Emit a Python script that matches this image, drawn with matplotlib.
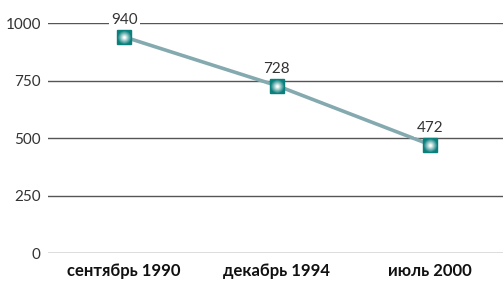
import matplotlib

matplotlib.use("Agg")
import matplotlib.pyplot as plt
import numpy as np
from matplotlib.colors import to_rgb

categories = ["сентябрь 1990", "декабрь 1994", "июль 2000"]
values = [940, 728, 472]
yticks = [0, 250, 500, 750, 1000]

plt.rcParams["font.family"] = ["Lato", "DejaVu Sans"]

fig = plt.figure(figsize=(5.03, 2.85), dpi=100)
ax = fig.add_axes([0.095, 0.112, 0.905, 0.807])

x = np.arange(len(categories))
ax.plot(x, values, color="#84aab0", lw=2.6, zorder=3, solid_capstyle="butt")

# square marker with a radial highlight
ax.plot(x, values, ls="none", marker="s", ms=10.5, mfc="#0a7f7c", mec="#0a7f7c", zorder=4, clip_on=False)
teal = np.array(to_rgb("#0a7f7c"))
for i, s in enumerate(np.linspace(9.5, 1.5, 10)):
    t = (i + 1) / 10
    c = teal * (1 - t) + np.array([1.0, 1.0, 1.0]) * t
    ax.plot(x, values, ls="none", marker="o", ms=s, mfc=c, mec="none", zorder=5, clip_on=False)

for xi, v in zip(x, values):
    ax.annotate(str(v), (xi, v), xytext=(0, 7), textcoords="offset points",
                ha="center", va="bottom", fontsize=11, color="#333333", zorder=6,
                bbox=dict(boxstyle="square,pad=0.15", fc="white", ec="none"))

ax.set_xlim(-0.5, 2.48)
ax.set_ylim(0, 1000)
ax.set_yticks(yticks)
ax.set_xticks(x)
ax.set_xticklabels(categories, fontweight="bold", fontsize=12, color="#111111")
ax.tick_params(axis="y", length=0, pad=5, labelsize=11, labelcolor="#333333")
ax.tick_params(axis="x", length=0, pad=7)
ax.yaxis.grid(True, color="#555555", lw=1.0)
ax.set_axisbelow(True)
for sp in ax.spines.values():
    sp.set_visible(False)

fig.savefig("out.png", dpi=100)
